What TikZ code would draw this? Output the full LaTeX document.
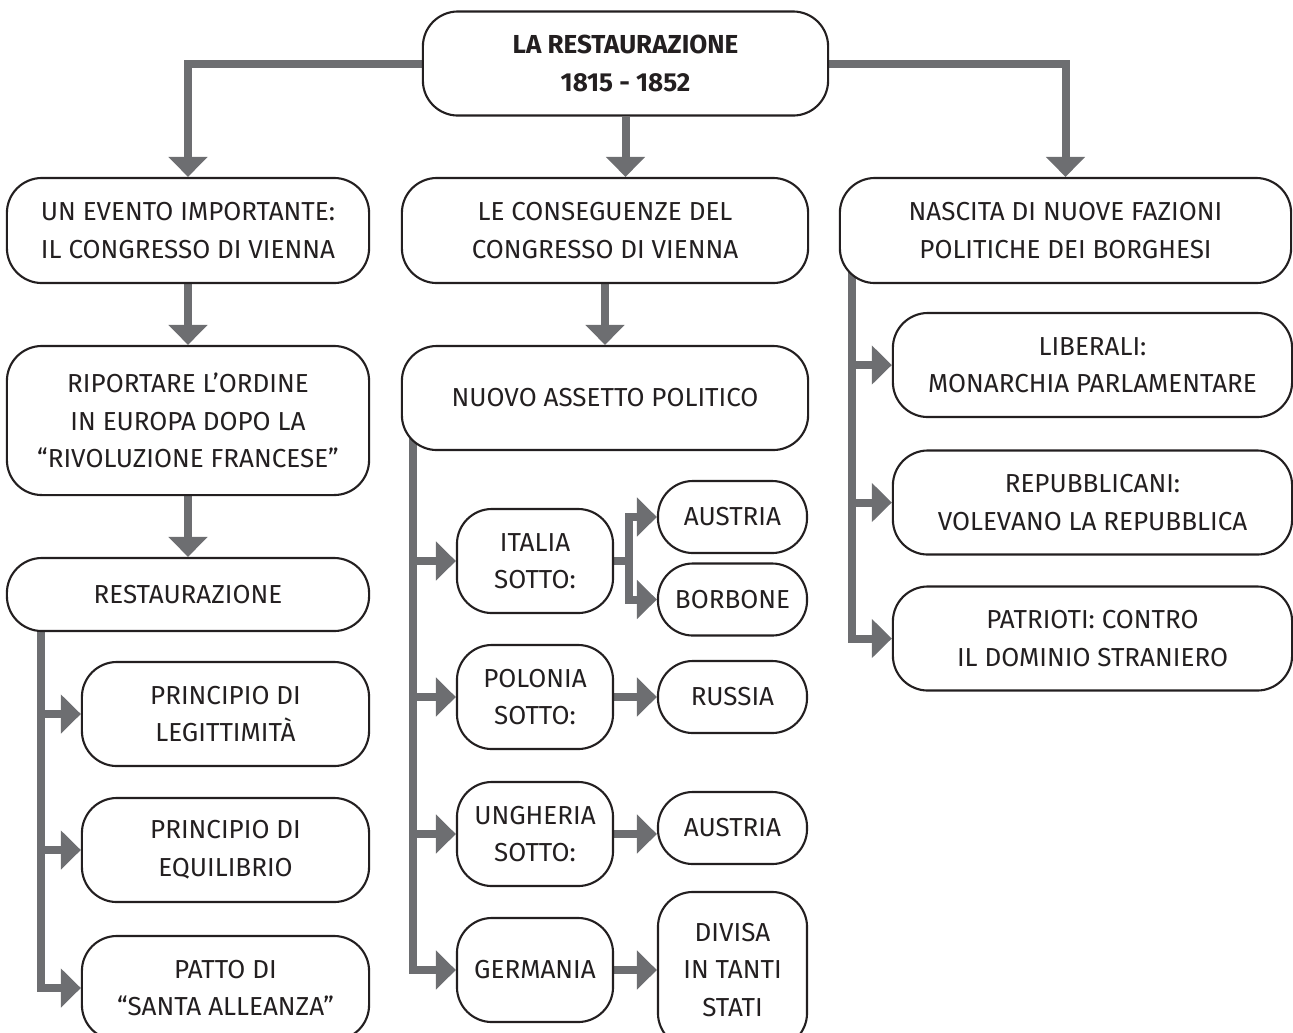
\documentclass[tikz,border=0pt]{standalone}
\usepackage{fontspec}
\IfFontExistsTF{Fira Sans Book}
  {\setmainfont{Fira Sans Book}[BoldFont=Fira Sans SemiBold]}
  {\setmainfont{Fira Sans}}
\usetikzlibrary{arrows.meta,backgrounds}
\definecolor{ink}{RGB}{35,31,32}
\definecolor{linegray}{RGB}{109,110,113}

\begin{document}
\begin{tikzpicture}[x=0.01cm, y=-0.01cm,
  font=\fontsize{7.4pt}{10.7pt}\selectfont,
  box/.style={draw=ink, fill=white, line width=0.6pt, rounded corners=0.35cm, align=center, text=ink, inner sep=0pt},
  conn/.style={line width=0.08cm, draw=linegray, line join=miter, -{Triangle[length=0.2cm, width=0.38cm]}},
  bar/.style={line width=0.08cm, draw=linegray}]
\useasboundingbox (0,0) rectangle (1293,1032);
\node[box, minimum width=4.05cm, minimum height=1.04cm, font=\fontsize{7.4pt}{10.7pt}\selectfont\bfseries] (top) at (625.5,63.5) {LA RESTAURAZIONE\\1815 - 1852};
\node[box, minimum width=3.62cm, minimum height=1.05cm] (ev) at (188,230.5) {UN EVENTO IMPORTANTE:\\IL CONGRESSO DI VIENNA};
\node[box, minimum width=4.06cm, minimum height=1.05cm] (cons) at (605,230.5) {LE CONSEGUENZE DEL\\CONGRESSO DI VIENNA};
\node[box, minimum width=4.51cm, minimum height=1.05cm] (fz) at (1065.5,230.5) {NASCITA DI NUOVE FAZIONI\\POLITICHE DEI BORGHESI};
\node[box, minimum width=3.62cm, minimum height=1.49cm] (ord) at (188,420.5) {RIPORTARE L’ORDINE\\IN EUROPA DOPO LA\\“RIVOLUZIONE FRANCESE”};
\node[box, minimum width=3.62cm, minimum height=0.73cm] (rest) at (188,594.5) {RESTAURAZIONE};
\node[box, minimum width=2.87cm, minimum height=1.04cm] (leg) at (225.5,714) {PRINCIPIO DI\\LEGITTIMITÀ};
\node[box, minimum width=2.87cm, minimum height=1.04cm] (equ) at (225.5,850) {PRINCIPIO DI\\EQUILIBRIO};
\node[box, minimum width=2.87cm, minimum height=1.04cm] (pat) at (225.5,988) {PATTO DI\\“SANTA ALLEANZA”};
\node[box, minimum width=4.06cm, minimum height=1.04cm] (nap) at (605,398) {NUOVO ASSETTO POLITICO};
\node[box, minimum width=1.56cm, minimum height=1.04cm] (ita) at (535,561) {ITALIA\\SOTTO:};
\node[box, minimum width=1.49cm, minimum height=0.72cm] (aus1) at (732.5,517) {AUSTRIA};
\node[box, minimum width=1.49cm, minimum height=0.72cm] (bor) at (732.5,599.5) {BORBONE};
\node[box, minimum width=1.56cm, minimum height=1.04cm] (pol) at (535,697) {POLONIA\\SOTTO:};
\node[box, minimum width=1.49cm, minimum height=0.72cm] (rus) at (732.5,697) {RUSSIA};
\node[box, minimum width=1.56cm, minimum height=1.04cm] (ung) at (535,834) {UNGHERIA\\SOTTO:};
\node[box, minimum width=1.49cm, minimum height=0.72cm] (aus2) at (732.5,828) {AUSTRIA};
\node[box, minimum width=1.56cm, minimum height=1.04cm] (ger) at (535,970) {GERMANIA};
\node[box, minimum width=1.49cm, minimum height=1.56cm] (div) at (732.5,970) {DIVISA\\IN TANTI\\STATI};
\node[box, minimum width=3.99cm, minimum height=1.04cm] (lib) at (1092.5,365) {LIBERALI:\\MONARCHIA PARLAMENTARE};
\node[box, minimum width=3.99cm, minimum height=1.04cm] (rep) at (1092.5,502.5) {REPUBBLICANI:\\VOLEVANO LA REPUBBLICA};
\node[box, minimum width=3.99cm, minimum height=1.04cm] (pai) at (1092.5,638.5) {PATRIOTI: CONTRO\\IL DOMINIO STRANIERO};
\coordinate (lbus) at ([xshift=0.35cm]rest.west);
\coordinate (mbus) at ([xshift=0.12cm]nap.west);
\coordinate (rbus) at ([xshift=0.13cm]fz.west);
\coordinate (fork) at (629,561);
\begin{scope}[on background layer]
\draw[conn] (top.west) -| (ev);
\draw[conn] (top.east) -| (fz);
\draw[conn] (top.south) -- (top.south |- cons.north);
\draw[conn] (ev) -- (ord);
\draw[conn] (ord) -- (rest);
\draw[conn] (cons) -- (nap);
\draw[conn] (lbus) |- (leg);
\draw[conn] (lbus) |- (equ);
\draw[conn] (lbus) |- (pat);
\draw[conn] (mbus) |- (ita);
\draw[conn] (mbus) |- (pol);
\draw[conn] (mbus) |- (ung);
\draw[conn] (mbus) |- (ger);
\draw[bar] (ita) -- (fork);
\draw[conn] (fork) |- (aus1);
\draw[conn] (fork) |- (bor);
\draw[conn] (pol) -- (rus);
\draw[conn] (ung) -- (ung -| aus2.west);
\draw[conn] (ger) -- (div);
\draw[conn] (rbus) |- (lib);
\draw[conn] (rbus) |- (rep);
\draw[conn] (rbus) |- (pai);
\end{scope}
\end{tikzpicture}
\end{document}
